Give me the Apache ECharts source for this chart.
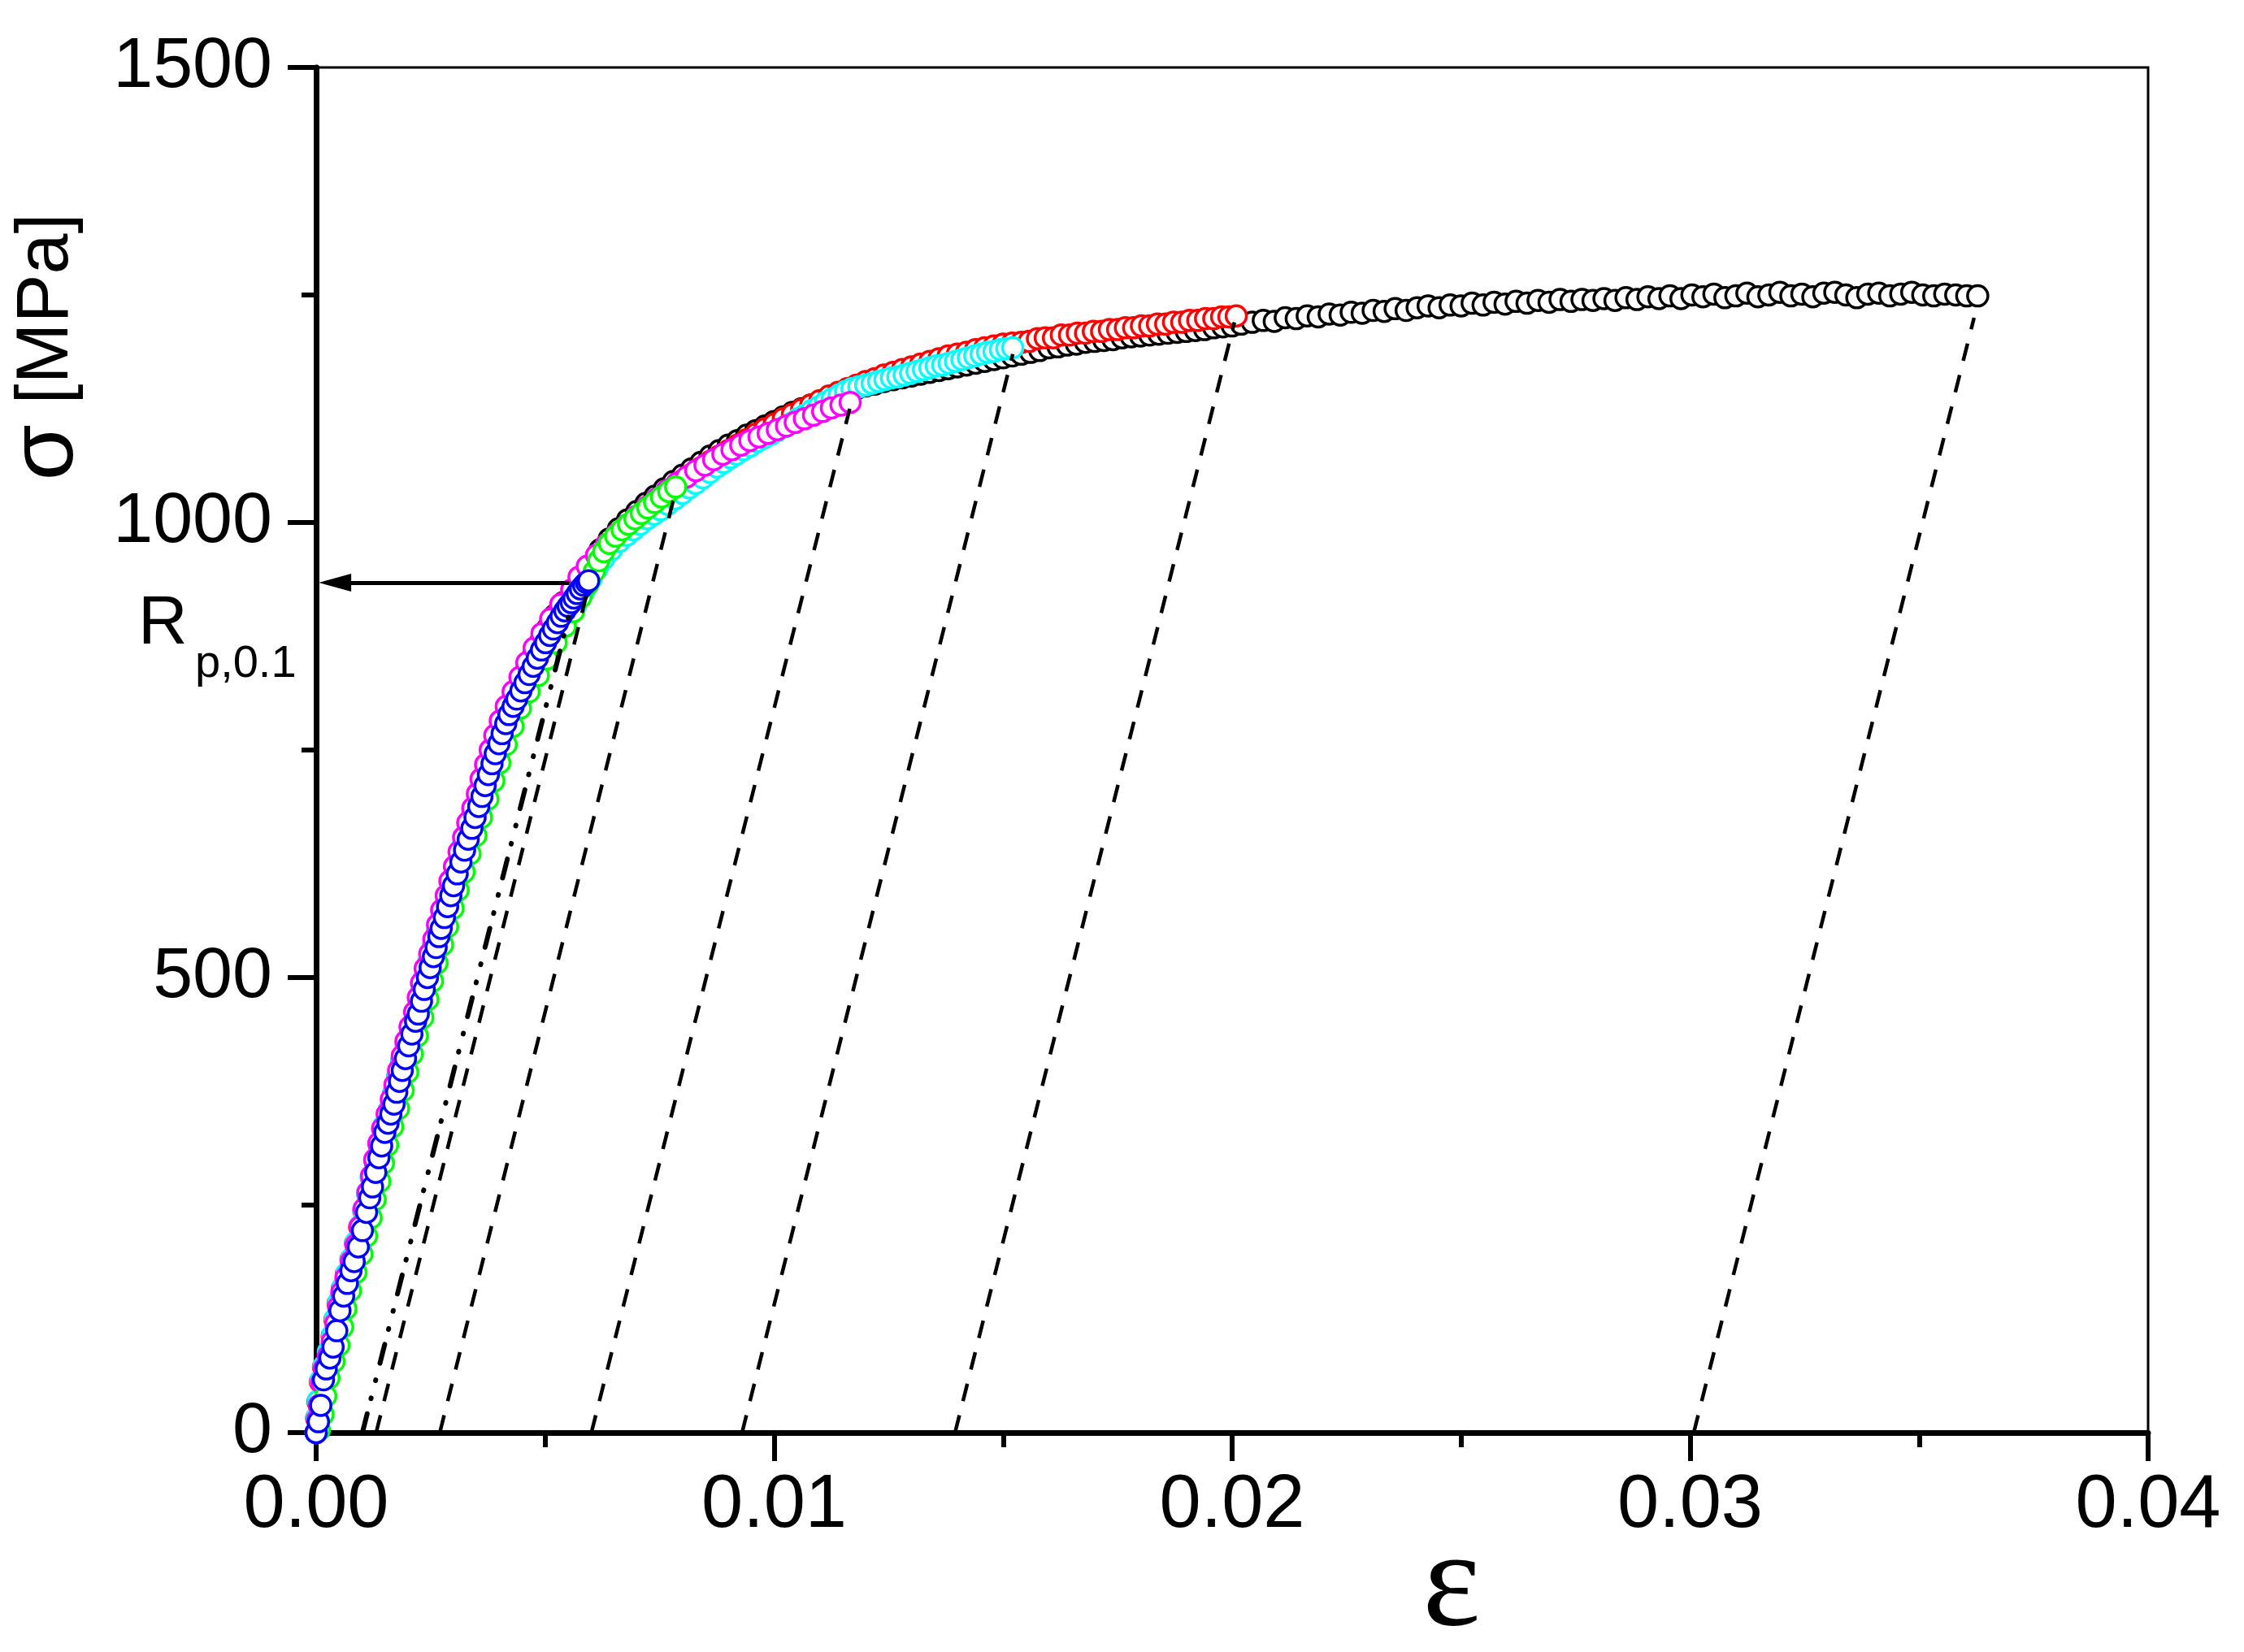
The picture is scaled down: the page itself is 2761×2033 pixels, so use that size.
<!DOCTYPE html>
<html><head><meta charset="utf-8">
<script src="https://cdn.jsdelivr.net/npm/echarts/dist/echarts.min.js"></script>
<style>html,body{margin:0;padding:0;background:#fff}#c{width:2761px;height:2033px}</style>
</head><body><div id="c"></div><script>
// strain (ε) , stress σ [MPa] pairs
const blackPts = [[0,0],[0.00002,15],[0.00006,32],[0.00011,56],[0.00018,72],[0.00028,88],[0.00037,106],[0.00043,124],[0.0005,142],[0.00059,158],[0.00068,174],[0.00078,190],[0.00088,208],[0.00097,226],[0.00105,244],[0.00113,262],[0.00121,280],[0.00129,298],[0.00138,316],[0.00148,336],[0.0016,354],[0.00169,372],[0.00178,390],[0.00187,408],[0.00197,426],[0.00206,444],[0.00218,462],[0.00227,480],[0.00236,498],[0.00246,516],[0.00256,534],[0.00266,552],[0.00276,570],[0.00287,588],[0.00297,606],[0.00308,624],[0.00319,642],[0.00331,660],[0.00342,678],[0.00354,696],[0.00365,714],[0.00376,732],[0.00387,750],[0.004,768],[0.00412,786],[0.00428,804],[0.00443,820],[0.00458,836],[0.00473,852],[0.00489,868],[0.00506,884],[0.00521,898],[0.0054,912],[0.0056,926],[0.0058,940],[0.006,952],[0.0062,970],[0.0064,982],[0.0066,993],[0.0068,1003],[0.007,1012],[0.0072,1021],[0.0074,1029],[0.0076,1037],[0.0078,1045],[0.008,1052],[0.0082,1059],[0.0084,1066],[0.0086,1073],[0.0088,1079],[0.009,1085],[0.0092,1090],[0.0094,1096],[0.0096,1101],[0.0098,1106],[0.01,1111],[0.0102,1116],[0.0104,1121],[0.0106,1125],[0.0108,1129],[0.011,1133],[0.0112,1137],[0.0114,1141],[0.0116,1144],[0.0118,1147],[0.012,1150],[0.0122,1152],[0.0124,1155],[0.0126,1157],[0.0128,1159],[0.013,1161],[0.0132,1163],[0.0134,1165],[0.0136,1167],[0.0138,1169],[0.014,1171],[0.0142,1173],[0.0144,1175],[0.0146,1177],[0.0148,1179],[0.015,1181],[0.0152,1183],[0.0154,1185],[0.0156,1187],[0.0158,1189],[0.016,1192],[0.0162,1193],[0.0164,1195],[0.0166,1196],[0.0168,1198],[0.017,1199],[0.0172,1200],[0.0174,1201],[0.0176,1203],[0.0178,1204],[0.018,1205],[0.0182,1206],[0.0184,1207],[0.0186,1208],[0.0188,1209],[0.019,1210],[0.0192,1211],[0.0194,1212],[0.0196,1214],[0.0198,1215],[0.02,1216],[0.0202,1218],[0.02044,1220],[0.02068,1222],[0.02092,1221],[0.02116,1225],[0.0214,1224],[0.02164,1227],[0.02188,1226],[0.02212,1229],[0.02236,1228],[0.0226,1231],[0.02284,1230],[0.02308,1233],[0.02332,1232],[0.02356,1235],[0.0238,1233],[0.02404,1236],[0.02428,1238],[0.02452,1236],[0.02476,1239],[0.025,1238],[0.02524,1241],[0.02548,1239],[0.02572,1242],[0.02596,1240],[0.0262,1243],[0.02644,1241],[0.02668,1244],[0.02692,1242],[0.02716,1245],[0.0274,1243],[0.02764,1245],[0.02788,1244],[0.02812,1246],[0.02836,1244],[0.0286,1247],[0.02884,1245],[0.02908,1248],[0.02932,1246],[0.02956,1249],[0.0298,1246],[0.03004,1250],[0.03028,1248],[0.03052,1251],[0.03076,1247],[0.031,1249],[0.03124,1252],[0.03148,1248],[0.03172,1250],[0.03196,1253],[0.0322,1249],[0.03244,1251],[0.03268,1248],[0.03292,1252],[0.03316,1253],[0.0334,1250],[0.03364,1247],[0.03388,1251],[0.03412,1252],[0.03436,1249],[0.0346,1251],[0.03484,1253],[0.03508,1250],[0.03532,1249],[0.03556,1251],[0.0358,1250],[0.03604,1249],[0.03628,1249]];
const redPts = [[0,0],[0.00001,16],[0.00004,34],[0.00009,56],[0.00016,72],[0.00026,88],[0.00035,106],[0.00041,124],[0.00048,142],[0.00057,158],[0.00066,174],[0.00076,190],[0.00086,208],[0.00095,226],[0.00104,244],[0.00113,262],[0.00122,280],[0.0013,298],[0.00139,316],[0.00149,336],[0.00161,354],[0.0017,372],[0.00179,390],[0.00188,408],[0.00198,426],[0.00207,444],[0.00219,462],[0.00228,480],[0.00237,498],[0.00247,516],[0.00257,534],[0.00267,552],[0.00277,570],[0.00288,588],[0.00298,606],[0.00309,624],[0.0032,642],[0.00332,660],[0.00343,678],[0.00355,696],[0.00366,714],[0.00377,732],[0.00388,750],[0.00401,768],[0.00413,786],[0.00429,804],[0.00444,820],[0.00459,836],[0.00474,852],[0.0049,868],[0.00507,884],[0.00523,898],[0.00542,912],[0.00562,926],[0.00582,939],[0.006,950],[0.0062,962],[0.0064,974],[0.0066,985],[0.0068,995],[0.007,1005],[0.0072,1014],[0.0074,1022],[0.0076,1030],[0.0078,1038],[0.008,1046],[0.0082,1053],[0.0084,1060],[0.0086,1067],[0.0088,1073],[0.009,1079],[0.0092,1085],[0.0094,1091],[0.0096,1097],[0.0098,1103],[0.01,1108],[0.0102,1114],[0.0104,1119],[0.0106,1124],[0.0108,1129],[0.011,1134],[0.0112,1139],[0.0114,1143],[0.0116,1147],[0.0118,1151],[0.012,1155],[0.0122,1158],[0.0124,1162],[0.0126,1165],[0.0128,1168],[0.013,1171],[0.0132,1174],[0.0134,1177],[0.0136,1180],[0.0138,1183],[0.014,1185],[0.0142,1187],[0.0144,1190],[0.0146,1192],[0.0148,1194],[0.015,1196],[0.0152,1197],[0.0154,1198],[0.01557,1199],[0.01575,1202],[0.01592,1203],[0.0161,1203],[0.01627,1206],[0.01645,1206],[0.01662,1208],[0.0168,1208],[0.01697,1210],[0.01715,1210],[0.01732,1212],[0.0175,1212],[0.01767,1214],[0.01785,1214],[0.01802,1216],[0.0182,1216],[0.01837,1218],[0.01855,1218],[0.01872,1220],[0.0189,1220],[0.01907,1222],[0.01925,1222],[0.01942,1224],[0.0196,1224],[0.01977,1226],[0.01993,1226],[0.02009,1227]];
const cyanPts = [[0,0],[0.00002,17],[0.00005,35],[0.0001,57],[0.00017,73],[0.00027,89],[0.00036,107],[0.00042,125],[0.00049,143],[0.00058,159],[0.00067,175],[0.00077,191],[0.00087,209],[0.00096,227],[0.00104,245],[0.00112,263],[0.0012,281],[0.00129,299],[0.00138,317],[0.00148,337],[0.0016,355],[0.00169,373],[0.00178,391],[0.00187,409],[0.00197,427],[0.00206,445],[0.00218,463],[0.00227,481],[0.00236,499],[0.00246,517],[0.00256,535],[0.00266,553],[0.00276,571],[0.00287,589],[0.00297,607],[0.00308,625],[0.00319,643],[0.00331,661],[0.00342,679],[0.00354,697],[0.00366,715],[0.00378,733],[0.0039,751],[0.00404,769],[0.00419,787],[0.00437,804],[0.00455,820],[0.00473,836],[0.0049,851],[0.00508,866],[0.00527,880],[0.00546,894],[0.00566,908],[0.00584,924],[0.006,938],[0.00614,950],[0.00628,960],[0.00645,970],[0.00662,979],[0.00678,986],[0.00693,992],[0.00708,998],[0.00723,1004],[0.00738,1009],[0.00752,1014],[0.00768,1020],[0.00784,1026],[0.008,1032],[0.00815,1038],[0.00829,1043],[0.00845,1049],[0.0086,1055],[0.00875,1061],[0.0089,1066],[0.00905,1071],[0.00918,1075],[0.00933,1080],[0.00948,1084],[0.00963,1089],[0.00978,1093],[0.00993,1097],[0.01007,1101],[0.01022,1105],[0.01037,1109],[0.01052,1114],[0.01067,1118],[0.01082,1123],[0.01097,1127],[0.01112,1132],[0.01127,1136],[0.01142,1140],[0.01156,1144],[0.0117,1147],[0.01185,1149],[0.012,1151],[0.01214,1153],[0.01228,1155],[0.01242,1157],[0.01256,1159],[0.0127,1160],[0.01284,1162],[0.01298,1164],[0.01312,1166],[0.01326,1168],[0.0134,1170],[0.01354,1172],[0.01368,1173],[0.01382,1175],[0.01396,1177],[0.0141,1179],[0.01424,1181],[0.01438,1183],[0.01452,1185],[0.01466,1187],[0.0148,1188],[0.01494,1190],[0.01508,1191],[0.01521,1192]];
const magentaPts = [[0,0],[0.00003,14],[0.00007,30],[0.00012,55],[0.00018,70],[0.00027,84],[0.00035,100],[0.00043,120],[0.00049,138],[0.00056,154],[0.00065,170],[0.00077,188],[0.00087,206],[0.00096,226],[0.00105,246],[0.00113,264],[0.00121,282],[0.00128,300],[0.00137,318],[0.00145,334],[0.00155,350],[0.00164,366],[0.00172,382],[0.0018,398],[0.00188,414],[0.00196,430],[0.00205,446],[0.00215,462],[0.00223,478],[0.0023,494],[0.00238,510],[0.00248,526],[0.00257,542],[0.00265,558],[0.00274,574],[0.00284,590],[0.00292,606],[0.00302,622],[0.00312,638],[0.00322,654],[0.00331,670],[0.00342,686],[0.00352,702],[0.0036,718],[0.0037,734],[0.0038,750],[0.0039,766],[0.00402,782],[0.00415,798],[0.0043,814],[0.00445,830],[0.0046,846],[0.00476,862],[0.00493,878],[0.00512,894],[0.00534,910],[0.00558,926],[0.00574,940],[0.00592,952],[0.00612,964],[0.00634,976],[0.00656,987],[0.00678,997],[0.007,1007],[0.00722,1017],[0.00744,1026],[0.00766,1035],[0.00788,1043],[0.00809,1050],[0.00829,1057],[0.00849,1063],[0.00868,1069],[0.00888,1075],[0.00908,1080],[0.00927,1085],[0.00947,1090],[0.00967,1094],[0.00987,1098],[0.01007,1102],[0.01027,1106],[0.01046,1110],[0.01066,1114],[0.01086,1118],[0.01106,1122],[0.01125,1126],[0.01146,1129],[0.01166,1132]];
const greenPts = [[0.00007,3],[0.00015,20],[0.00021,40],[0.00028,60],[0.00039,78],[0.0005,96],[0.00058,116],[0.00065,136],[0.00075,156],[0.00087,176],[0.001,196],[0.0011,216],[0.0012,236],[0.00129,256],[0.00139,276],[0.00147,296],[0.00156,316],[0.00167,336],[0.0018,356],[0.0019,376],[0.002,396],[0.0021,416],[0.00221,436],[0.00233,456],[0.00244,476],[0.00254,496],[0.00264,516],[0.00276,536],[0.00287,556],[0.00299,576],[0.0031,596],[0.00323,616],[0.00336,636],[0.00349,656],[0.00361,676],[0.00375,696],[0.00388,716],[0.00401,736],[0.00415,756],[0.0043,776],[0.00446,796],[0.00465,814],[0.00485,832],[0.00504,850],[0.00524,868],[0.00544,886],[0.00562,902],[0.00578,918],[0.00593,932],[0.00607,946],[0.00617,958],[0.00628,968],[0.0064,977],[0.00654,985],[0.00668,992],[0.00682,998],[0.00696,1004],[0.0071,1010],[0.00724,1016],[0.00739,1022],[0.00754,1028],[0.0077,1034],[0.00785,1039]];
const bluePts = [[0,0],[0.00005,12],[0.0001,30],[0.00016,58],[0.00022,70],[0.0003,82],[0.00037,94],[0.00045,112],[0.00052,134],[0.0006,150],[0.00068,164],[0.00076,178],[0.00083,188],[0.00092,204],[0.00101,222],[0.0011,242],[0.00117,258],[0.00123,270],[0.0013,286],[0.00137,302],[0.00143,315],[0.0015,330],[0.00157,340],[0.00163,350],[0.0017,361],[0.00176,374],[0.00182,386],[0.00188,398],[0.00195,411],[0.00202,425],[0.00209,438],[0.00217,452],[0.00223,460],[0.0023,474],[0.00236,487],[0.00243,500],[0.00249,511],[0.00256,523],[0.00262,533],[0.00268,545],[0.00273,554],[0.0028,566],[0.00287,578],[0.00294,590],[0.003,601],[0.00308,614],[0.00316,627],[0.00324,640],[0.00332,652],[0.0034,664],[0.00347,676],[0.00355,688],[0.00362,699],[0.00369,711],[0.00376,723],[0.00384,735],[0.00391,746],[0.00399,757],[0.00406,768],[0.00414,779],[0.00421,789],[0.0043,798],[0.00438,806],[0.00447,815],[0.00456,824],[0.00465,833],[0.00474,842],[0.00483,851],[0.00492,860],[0.00501,868],[0.0051,876],[0.00518,883],[0.00527,890],[0.00535,897],[0.00543,903],[0.0055,908],[0.00557,912],[0.00563,917],[0.0057,922],[0.00577,927],[0.00584,931],[0.0059,934],[0.00595,936]];
// unloading lines (dashed): [start on ε axis, end on curve]
const unloadLines = [
  [[0.00131,0],[0.00595,930]],
  [[0.0027,0],[0.00785,1035]],
  [[0.00601,0],[0.01165,1125]],
  [[0.0093,0],[0.01521,1185]],
  [[0.01395,0],[0.02005,1220]],
  [[0.03008,0],[0.0362,1225]]
];
// 0.1 % offset line (dash-dot)
const offsetLine = [[0.00101,0],[0.00559,912]];
// Rp0.1 arrow: from curve to σ axis
const rpStress = 934;
const arrowFrom = [0.00553, rpStress];
const arrowTo = [0.00041, rpStress];
const xTickLabels = ['0.00','0.01','0.02','0.03','0.04'];
const yTickLabels = ['0','500','1000','1500'];

const FONT = 'Liberation Sans';
function marker(name, data, color) {
  return {type:'scatter', name, data, symbol:'circle', symbolSize:25,
    itemStyle:{color:'#ffffff', borderColor:color, borderWidth:3.5, opacity:1},
    emphasis:{disabled:true}, silent:true};
}
function dashed(data, type, width, cap) {
  return {type:'line', data, symbol:'none', silent:true, z:3,
    lineStyle:{color:'#000', width, type, cap: cap || 'butt'}};
}
const series = [
  marker('black', blackPts, '#000000'),
  marker('red', redPts, '#ff0000'),
  marker('cyan', cyanPts, '#00ffff'),
  marker('magenta', magentaPts, '#ff00ff'),
  marker('green', greenPts, '#00ff00'),
  marker('blue', bluePts, '#0000ff')
];
unloadLines.forEach(l => series.push(dashed(l, [22,18], 4.5)));
series.push(dashed(offsetLine, [24,19,1,22,1,21], 6, 'round'));
series.push({type:'line', data:[], silent:true, z:4,
  markLine:{silent:true, animation:false, label:{show:false},
    lineStyle:{color:'#000', width:5, type:'solid'},
    symbol:['none','path://M11,0L22,40L0,40Z'],
    data:[[{coord:arrowFrom, symbol:'none'},{coord:arrowTo, symbolSize:[22,40]}]]}});

const axisCommon = {
  axisLine:{show:true, onZero:false, lineStyle:{color:'#000', width:7}},
  axisTick:{show:true, inside:false, length:35, lineStyle:{color:'#000', width:6}},
  minorTick:{show:true, splitNumber:2, length:18, lineStyle:{color:'#000', width:6}},
  splitLine:{show:false}, minorSplitLine:{show:false}
};
const chart = echarts.init(document.getElementById('c'));
chart.setOption({
  animation:false,
  backgroundColor:'#ffffff',
  grid:{left:389, top:83, width:2254, height:1680, show:true, borderColor:'#000', borderWidth:3, backgroundColor:'transparent'},
  xAxis:Object.assign({type:'value', min:0, max:0.04, interval:0.01,
    axisLabel:{fontSize:92, color:'#000', fontFamily:FONT, margin:45,
      formatter:v => xTickLabels[Math.round(v/0.01)]}}, axisCommon),
  yAxis:Object.assign({type:'value', min:0, max:1500, interval:500,
    axisLabel:{fontSize:88, color:'#000', fontFamily:FONT, margin:54,
      formatter:v => yTickLabels[Math.round(v/500)]}}, axisCommon),
  series,
  graphic:[
    {type:'text', x:1786, y:1954, z:100, silent:true,
      style:{text:'ε', fontSize:170, fontFamily:'Liberation Serif', fill:'#000', align:'center', verticalAlign:'middle'}},
    {type:'text', x:58, y:427, rotation:Math.PI/2, z:100, silent:true,
      style:{text:'{s|σ} [MPa]', fontSize:90, fontFamily:FONT, fill:'#000', align:'center', verticalAlign:'middle',
        rich:{s:{fontSize:112, fontFamily:FONT, fill:'#000'}}}},
    {type:'text', x:170, y:769, z:100, silent:true,
      style:{text:'R', fontSize:84, fontFamily:FONT, fill:'#000', align:'left', verticalAlign:'middle'}},
    {type:'text', x:240, y:818, z:100, silent:true,
      style:{text:'p,0.1', fontSize:56, fontFamily:FONT, fill:'#000', align:'left', verticalAlign:'middle'}}
  ]
});
</script></body></html>
